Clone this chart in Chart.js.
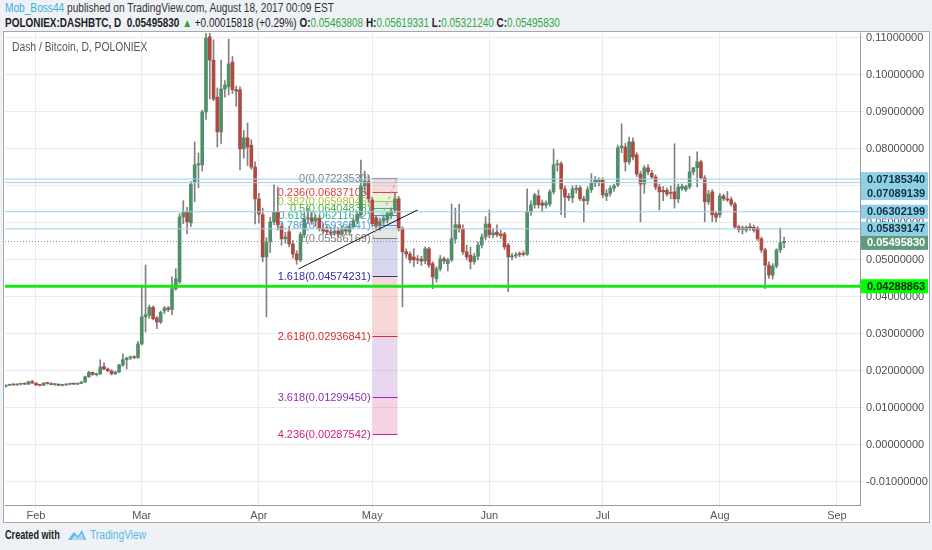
<!DOCTYPE html>
<html>
<head>
<meta charset="utf-8">
<script src="https://cdn.jsdelivr.net/npm/chart.js@4.4.1/dist/chart.umd.min.js"></script>
<style>
  body { margin: 0; width: 932px; height: 550px; background: #eef1f5; overflow: hidden; position: relative;
         font-family: "Liberation Sans", sans-serif; }
  .sq { transform-origin: 0 50%; white-space: nowrap; position: absolute; }
  #h1 { left: 5px; top: 1px; font-size: 12px; color: #333; transform: scaleX(0.845); }
  #h2 { left: 5px; top: 16px; font-size: 12px; color: #222; font-weight: bold; transform: scaleX(0.83); }
  #h2 .g { color: #2eaa3e; font-weight: normal; }
  #box { position: absolute; left: 3px; top: 31px; width: 925px; height: 490px; background: #fff; border: 1px solid #a8a8a8; }
  #title { left: 12px; top: 40px; font-size: 12px; color: #555; transform: scaleX(0.86); }
  #foot { left: 5px; top: 528px; font-size: 12px; color: #222; display: flex; align-items: center; }
  #foot .cw { font-weight: bold; display: inline-block; transform: scaleX(0.76); transform-origin: 0 50%; width: 62px; }
  #foot .tv { color: #5cb8e6; display: inline-block; transform: scaleX(0.85); transform-origin: 0 50%; margin-left: 3px; }
</style>
</head>
<body>
<div id="h1" class="sq"><span style="color:#3ab0e2">Mob_Boss44</span> published on TradingView.com, August 18, 2017 00:09 EST</div>
<div id="h2" class="sq">POLONIEX:DASHBTC, D&nbsp; 0.05495830 <span class="g">&#9650;</span> <span style="font-weight:normal">+0.00015818 (+0.29%)</span>
  O:<span class="g">0.05463808</span> H:<span class="g">0.05619331</span> L:<span class="g">0.05321240</span> C:<span class="g">0.05495830</span></div>
<div id="box"><canvas id="dashChart" width="925" height="490"></canvas></div>
<div id="title" class="sq">Dash / Bitcoin, D, POLONIEX</div>
<div id="foot" class="sq"><span class="cw">Created with</span>
  <svg width="20" height="14" viewBox="0 0 20 14"><path d="M1 12 L7 4 L11 8 L15 2 L19 12 Z" fill="#5cb8e6"/><path d="M4 12 L8 7 L11 10 L15 5 L17 12 Z" fill="#a9dcf3"/></svg>
  <span class="tv">TradingView</span></div>

<script>
// daily candles [open, high, low, close], first day = Jan 24 2017
const jan = [
  [.0158,.0162,.0156,.0161],[.0161,.0164,.0160,.0163],[.0163,.0165,.0161,.0162],[.0162,.0165,.0161,.0164],
  [.0164,.0166,.0162,.0165],[.0165,.0167,.0163,.0164],[.0164,.0172,.0163,.0171],[.0171,.0175,.0166,.0167]
];
const feb = [
  [.0167,.0168,.0160,.0162],[.0162,.0164,.0159,.0161],[.0161,.0168,.0160,.0167],[.0167,.0169,.0164,.0166],
  [.0166,.0168,.0162,.0163],[.0163,.0165,.0161,.0164],[.0164,.0165,.0160,.0161],[.0161,.0163,.0159,.0162],
  [.0162,.0165,.0161,.0164],[.0164,.0166,.0162,.0165],[.0165,.0167,.0163,.0164],[.0164,.0167,.0163,.0166],
  [.0166,.0171,.0165,.0170],[.0170,.0186,.0169,.0184],[.0184,.0199,.0182,.0196],[.0196,.0197,.0188,.0190],
  [.0190,.0194,.0186,.0192],[.0192,.0230,.0190,.0210],[.0212,.0222,.0203,.0205],[.0205,.0208,.0198,.0200],
  [.0200,.0203,.0189,.0192],[.0192,.0199,.0190,.0197],[.0197,.0218,.0195,.0216],[.0216,.0246,.0212,.0230],
  [.0230,.0237,.0205,.0235],[.0235,.0240,.0230,.0238],[.0238,.0241,.0233,.0236],[.0236,.0280,.0234,.0273]
];
const mar = [
  [.0273,.0432,.0270,.0346],[.0346,.0486,.0305,.0352],[.0350,.0378,.0342,.0372],[.0372,.0376,.0338,.0341],
  [.0343,.0347,.0314,.0332],[.0332,.0362,.0328,.0358],[.0362,.0374,.0355,.0370],[.0370,.0374,.0360,.0366],
  [.0366,.0454,.0352,.0422],[.0422,.0476,.0418,.0449],[.0441,.0625,.0436,.0616],[.0616,.0660,.0598,.0630],
  [.0630,.0642,.0570,.0603],[.0600,.0712,.0590,.0705],[.0711,.0819,.0657,.0757],[.0757,.0789,.0695,.0760],
  [.0757,.0905,.0740,.0900],[.0900,.1150,.0880,.1100],[.1103,.1150,.0935,.1040],[.1040,.1095,.0930,.0935],
  [.0940,.0965,.0805,.0846],[.0846,.1040,.0815,.0962],[.0962,.0985,.0940,.0973],[.0968,.1097,.0946,.1030],
  [.1035,.1050,.0950,.0960],[.0960,.0970,.0915,.0956],[.0960,.0968,.0743,.0800],[.0800,.0850,.0775,.0830],
  [.0830,.0870,.0755,.0805],[.0810,.0825,.0745,.0751],[.0751,.0765,.0597,.0665]
];
const apr = [
  [.0665,.0680,.0600,.0624],[.0622,.0640,.0495,.0508],[.0508,.0560,.0346,.0549],[.0549,.0615,.0520,.0603],
  [.0603,.0703,.0595,.0630],[.0630,.0697,.0580,.0595],[.0590,.0600,.0540,.0557],[.0557,.0575,.0545,.0562],
  [.0576,.0590,.0535,.0543],[.0543,.0552,.0505,.0516],[.0516,.0525,.0488,.0500],[.0500,.0575,.0495,.0568],
  [.0568,.0625,.0560,.0611],[.0611,.0640,.0598,.0614],[.0614,.0630,.0596,.0605],[.0605,.0622,.0590,.0612],
  [.0612,.0620,.0578,.0584],[.0584,.0598,.0570,.0578],[.0580,.0592,.0568,.0576],[.0576,.0588,.0565,.0572],
  [.0572,.0590,.0566,.0578],[.0578,.0586,.0562,.0570],[.0570,.0592,.0565,.0582],[.0582,.0590,.0570,.0578],
  [.0575,.0598,.0568,.0590],[.0590,.0612,.0585,.0606],[.0606,.0630,.0598,.0622],[.0622,.0770,.0615,.0700],
  [.0700,.0740,.0680,.0712],[.0712,.0728,.0655,.0665]
];
const may = [
  [.0662,.0670,.0590,.0598],[.0614,.0620,.0585,.0594],[.0594,.0612,.0580,.0605],[.0605,.0618,.0596,.0612],
  [.0608,.0630,.0600,.0625],[.0620,.0640,.0612,.0632],[.0635,.0680,.0628,.0665],[.0665,.0672,.0578,.0584],
  [.0584,.0590,.0373,.0522],[.0522,.0530,.0505,.0516],[.0516,.0522,.0492,.0500],[.0508,.0530,.0482,.0500],
  [.0503,.0512,.0490,.0500],[.0502,.0510,.0485,.0497],[.0497,.0535,.0490,.0530],[.0530,.0534,.0480,.0486],
  [.0490,.0495,.0422,.0454],[.0449,.0482,.0440,.0476],[.0476,.0512,.0470,.0503],[.0503,.0508,.0490,.0497],
  [.0490,.0505,.0470,.0500],[.0500,.0651,.0495,.0557],[.0557,.0640,.0545,.0595],[.0595,.0651,.0575,.0584],
  [.0584,.0595,.0515,.0522],[.0522,.0540,.0500,.0508],[.0513,.0535,.0475,.0495],[.0495,.0518,.0488,.0510],
  [.0510,.0548,.0500,.0540],[.0540,.0570,.0532,.0562],[.0562,.0617,.0555,.0597]
];
const jun = [
  [.0597,.0635,.0560,.0568],[.0568,.0585,.0560,.0573],[.0575,.0595,.0562,.0568],[.0570,.0580,.0558,.0566],
  [.0570,.0575,.0528,.0535],[.0540,.0545,.0414,.0508],[.0508,.0518,.0500,.0511],[.0511,.0520,.0505,.0514],
  [.0517,.0522,.0508,.0514],[.0518,.0524,.0510,.0515],[.0515,.0692,.0512,.0630],[.0630,.0660,.0620,.0649],
  [.0649,.0680,.0640,.0676],[.0673,.0689,.0640,.0649],[.0654,.0662,.0630,.0648],[.0648,.0660,.0640,.0654],
  [.0651,.0690,.0645,.0684],[.0684,.0800,.0678,.0757],[.0757,.0770,.0740,.0760],[.0760,.0765,.0622,.0692],
  [.0692,.0700,.0615,.0670],[.0672,.0680,.0660,.0668],[.0668,.0700,.0655,.0692],[.0690,.0702,.0680,.0694],
  [.0695,.0700,.0660,.0665],[.0665,.0672,.0603,.0660],[.0660,.0698,.0650,.0690],[.0690,.0733,.0682,.0708],
  [.0708,.0725,.0698,.0716],[.0712,.0722,.0700,.0716]
];
const jul = [
  [.0716,.0722,.0668,.0676],[.0672,.0690,.0660,.0680],[.0680,.0700,.0672,.0694],[.0694,.0705,.0685,.0700],
  [.0703,.0810,.0698,.0803],[.0803,.0868,.0790,.0808],[.0805,.0815,.0740,.0765],[.0765,.0832,.0758,.0819],
  [.0819,.0830,.0770,.0778],[.0784,.0790,.0725,.0732],[.0732,.0740,.0603,.0705],[.0705,.0755,.0680,.0749],
  [.0749,.0758,.0730,.0738],[.0734,.0742,.0720,.0724],[.0724,.0730,.0690,.0697],[.0697,.0705,.0635,.0684],
  [.0688,.0698,.0660,.0684],[.0688,.0695,.0672,.0678],[.0682,.0700,.0665,.0680],[.0684,.0814,.0640,.0665],
  [.0665,.0705,.0655,.0697],[.0693,.0705,.0688,.0699],[.0690,.0702,.0685,.0698],[.0697,.0780,.0692,.0738],
  [.0738,.0750,.0730,.0749],[.0749,.0792,.0697,.0765],[.0765,.0770,.0718,.0722],[.0722,.0728,.0603,.0657],
  [.0657,.0688,.0650,.0678],[.0684,.0690,.0603,.0622],[.0625,.0632,.0603,.0615]
];
const aug = [
  [.0622,.0680,.0615,.0673],[.0673,.0678,.0660,.0665],[.0665,.0685,.0658,.0662],[.0663,.0670,.0645,.0651],
  [.0651,.0656,.0585,.0589],[.0589,.0594,.0575,.0582],[.0587,.0592,.0570,.0582],[.0580,.0592,.0575,.0588],
  [.0590,.0598,.0580,.0586],[.0588,.0594,.0575,.0580],[.0586,.0590,.0552,.0557],[.0557,.0562,.0520,.0527],
  [.0527,.0532,.0422,.0486],[.0486,.0495,.0450,.0459],[.0459,.0490,.0448,.0483],[.0483,.0530,.0478,.0527],
  [.0527,.0586,.0520,.0546],[.05463808,.05619331,.05321240,.05495830]
];

// axis ticks
const monthLabels = ['Feb', 'Mar', 'Apr', 'May', 'Jun', 'Jul', 'Aug', 'Sep'];
const monthStarts = [8, 36, 67, 97, 128, 158, 189, 220];
const priceTicks = [-0.01, 0, 0.01, 0.02, 0.03, 0.04, 0.05, 0.06, 0.07, 0.08, 0.09, 0.10, 0.11];

// drawings
const blueLevels = [0.07185340, 0.07089139, 0.06302199, 0.05839147];
const supportLevel = 0.04288863;
const trendDays = [77.5, 109];
const trendPrices = [0.04757, 0.0635];
const fibRatios = ['0', '0.236', '0.382', '0.5', '0.618', '0.786', '1', '1.618', '2.618', '3.618', '4.236'];
const fibPrices = [0.07223530, 0.06837105, 0.06598046, 0.06404838, 0.06211632, 0.05936541, 0.05586169,
                   0.04574231, 0.02936841, 0.01299450, 0.00287542];
const fibColors = ['#808080', '#e04040', '#a8c43a', '#4caf50', '#2aa88c', '#4a9fd6', '#808080',
                   '#3030a0', '#d03030', '#9030b0', '#d02080'];
const fibStartDay = 97.1, fibEndDay = 103.7;

const candles = [...jan, ...feb, ...mar, ...apr, ...may, ...jun, ...jul, ...aug];
const lastClose = candles[candles.length - 1][3];
const xMin = -0.2, xMax = 226.1;

const UP = '#4f8f69', DOWN = '#b04a40';
const isUp = (i) => candles[i][3] >= candles[i][0];

function hexA(hex, a) {
  const n = parseInt(hex.slice(1), 16);
  return `rgba(${n >> 16},${(n >> 8) & 255},${n & 255},${a})`;
}
function flatLine(v) {
  return [{ x: xMin, y: v }, { x: xMax, y: v }];
}

// fib boxes and labels under the candles, trend of the fib on top
const fibPlugin = {
  id: 'fib',
  beforeDatasetsDraw(chart) {
    const { ctx, scales: { x, y } } = chart;
    const x0 = x.getPixelForValue(fibStartDay), x1 = x.getPixelForValue(fibEndDay);
    ctx.save();
    for (let k = 1; k < fibPrices.length; k++) {
      const ya = y.getPixelForValue(fibPrices[k - 1]), yb = y.getPixelForValue(fibPrices[k]);
      ctx.fillStyle = hexA(fibColors[k], 0.2);
      ctx.fillRect(x0, ya, x1 - x0, yb - ya);
    }
    ctx.font = '11px "Liberation Sans", sans-serif';
    ctx.textAlign = 'right';
    ctx.textBaseline = 'middle';
    fibPrices.forEach((p, k) => {
      const yy = Math.round(y.getPixelForValue(p)) + 0.5;
      ctx.strokeStyle = fibColors[k];
      ctx.lineWidth = 1;
      ctx.beginPath(); ctx.moveTo(x0, yy); ctx.lineTo(x1, yy); ctx.stroke();
      ctx.fillStyle = fibColors[k];
      ctx.fillText(`${fibRatios[k]}(${p.toFixed(8)})`, x0 - 2, yy);
    });
    ctx.restore();
  },
  afterDatasetsDraw(chart) {
    const { ctx, scales: { x, y } } = chart;
    ctx.save();
    ctx.strokeStyle = '#9e9e9e';
    ctx.setLineDash([3, 3]);
    ctx.beginPath();
    ctx.moveTo(x.getPixelForValue(fibStartDay), y.getPixelForValue(fibPrices[6]));
    ctx.lineTo(x.getPixelForValue(fibEndDay), y.getPixelForValue(fibPrices[0]));
    ctx.stroke();
    ctx.restore();
  }
};

// price tags on the right axis, pushed apart when they collide
const tagPlugin = {
  id: 'tags',
  afterDraw(chart) {
    const { ctx, chartArea, scales: { y } } = chart;
    const tags = blueLevels.map(v => ({ v, bg: '#8fd0e6', fg: '#13323f' }));
    tags.push({ v: lastClose, bg: '#5f9a7d', fg: '#ffffff' });
    tags.push({ v: supportLevel, bg: '#00ff00', fg: '#0b2a0b' });
    tags.sort((a, b) => b.v - a.v);
    const h = 14;
    let prev = -100;
    ctx.save();
    ctx.font = 'bold 11px "Liberation Sans", sans-serif';
    ctx.textBaseline = 'middle';
    ctx.textAlign = 'left';
    tags.forEach(t => {
      let cy = y.getPixelForValue(t.v);
      if (cy - prev < h) cy = prev + h;
      prev = cy;
      ctx.fillStyle = t.bg;
      ctx.fillRect(chartArea.right + 1, cy - h / 2, chart.width - chartArea.right - 2, h);
      ctx.fillStyle = t.fg;
      ctx.fillText(t.v.toFixed(8), chartArea.right + 7, cy + 0.5);
    });
    ctx.restore();
  }
};

const dc = document.getElementById('dashChart');
new Chart(dc, {
  type: 'bar',
  data: {
    datasets: [
      {
        label: 'trend',
        type: 'line',
        data: [{ x: trendDays[0], y: trendPrices[0] }, { x: trendDays[1], y: trendPrices[1] }],
        borderColor: '#111',
        borderWidth: 1,
        pointRadius: 0,
        order: 0,
      },
      ...blueLevels.map(v => ({
        label: 'level',
        type: 'line',
        data: flatLine(v),
        borderColor: '#9dd0e6',
        borderWidth: 1,
        pointRadius: 0,
        order: 1,
      })),
      {
        label: 'support',
        type: 'line',
        data: flatLine(supportLevel),
        borderColor: '#19e619',
        borderWidth: 3,
        pointRadius: 0,
        order: 1,
      },
      {
        label: 'last',
        type: 'line',
        data: flatLine(lastClose),
        borderColor: '#6f9a85',
        borderWidth: 1,
        borderDash: [1, 2],
        pointRadius: 0,
        order: 1,
      },
      {
        label: 'body',
        data: candles.map((c, i) => ({ x: i, y: [c[0], c[3]] })),
        backgroundColor: (ctx) => (isUp(ctx.dataIndex) ? UP : DOWN),
        barThickness: 3,
        minBarLength: 1,
        grouped: false,
        order: 2,
      },
      {
        label: 'wick',
        data: candles.map((c, i) => ({ x: i, y: [c[2], c[1]] })),
        backgroundColor: '#808080',
        barThickness: 1,
        grouped: false,
        order: 3,
      },
    ]
  },
  plugins: [fibPlugin, tagPlugin],
  options: {
    responsive: false,
    animation: false,
    layout: { padding: { left: 1, top: 1, right: 0, bottom: 0 } },
    plugins: {
      legend: { display: false },
      tooltip: { enabled: false },
    },
    scales: {
      x: {
        type: 'linear',
        min: xMin,
        max: xMax,
        offset: false,
        afterBuildTicks: (axis) => { axis.ticks = monthStarts.map(v => ({ value: v })); },
        afterFit: (axis) => { axis.height = 17; axis.paddingLeft = 0; axis.paddingRight = 0; },
        grid: { color: '#ebebeb', offset: false, tickLength: 3 },
        border: { color: '#9a9a9a' },
        ticks: {
          autoSkip: false,
          maxRotation: 0,
          padding: 1,
          color: '#555',
          font: { family: '"Liberation Sans", sans-serif', size: 11 },
          callback: (v) => monthLabels[monthStarts.indexOf(v)],
        },
      },
      y: {
        position: 'right',
        min: -0.01626,
        max: 0.11134,
        afterBuildTicks: (axis) => { axis.ticks = priceTicks.map(v => ({ value: v })); },
        afterFit: (axis) => { axis.width = 69; axis.paddingTop = 0; axis.paddingBottom = 0; },
        grid: { color: '#ebebeb', tickLength: 4 },
        border: { color: '#9a9a9a' },
        ticks: {
          padding: 2,
          color: '#4d4d4d',
          font: { family: '"Liberation Sans", sans-serif', size: 11 },
          callback: (v) => v.toFixed(8),
        },
      },
    },
  },
});
</script>
</body>
</html>
